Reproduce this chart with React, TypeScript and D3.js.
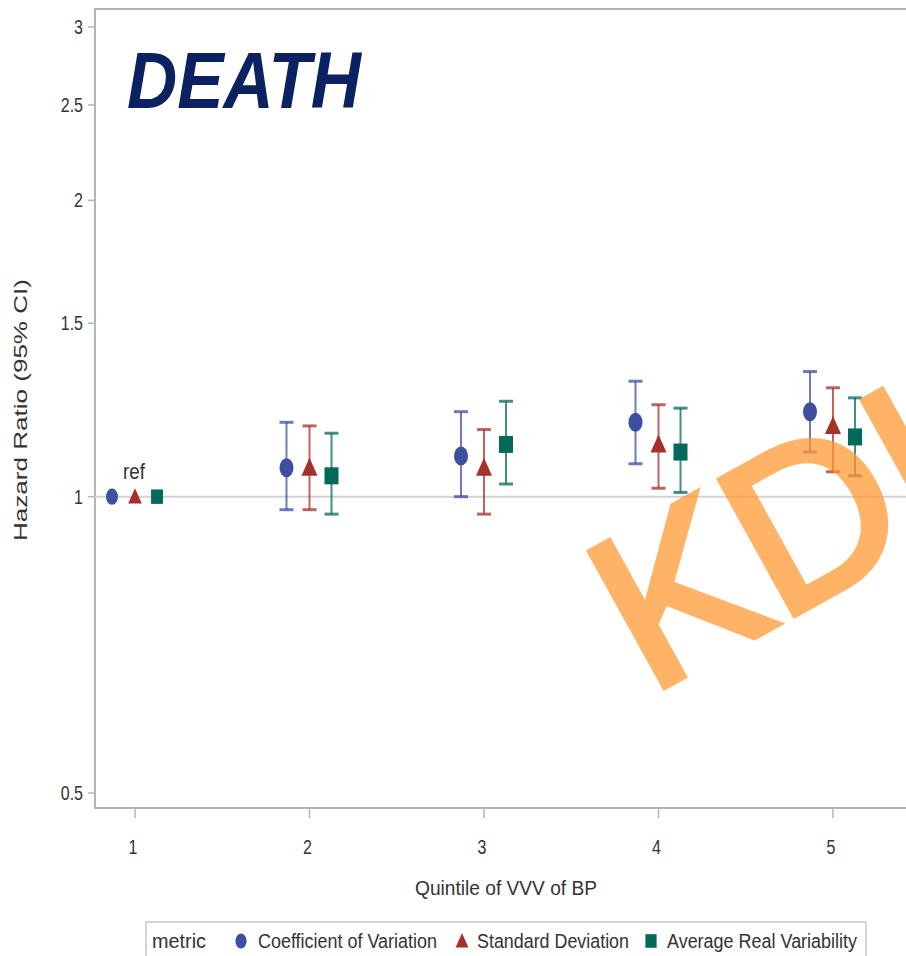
import React from "react";
import * as d3 from "d3";

// Quintiles of visit-to-visit variability of blood pressure
const quintiles = [1, 2, 3, 4, 5];
const yTicks = [0.5, 1, 1.5, 2, 2.5, 3];

// Hazard ratios with 95% CI, one array per metric (quintile 1 is reference)
const cvHR = [1.0, 1.07, 1.1, 1.19, 1.22];
const cvLow = [null, 0.97, 1.0, 1.08, 1.11];
const cvHigh = [null, 1.19, 1.22, 1.31, 1.34];

const sdHR = [1.0, 1.07, 1.07, 1.13, 1.18];
const sdLow = [null, 0.97, 0.96, 1.02, 1.06];
const sdHigh = [null, 1.18, 1.17, 1.24, 1.29];

const arvHR = [1.0, 1.05, 1.13, 1.11, 1.15];
const arvLow = [null, 0.96, 1.03, 1.01, 1.05];
const arvHigh = [null, 1.16, 1.25, 1.23, 1.26];

const metricNames = ["Coefficient of Variation", "Standard Deviation", "Average Real Variability"];
const metricColors = ["#3d4f9f", "#a6302a", "#03695a"];

const W = 906;
const H = 956;

export default function App() {
  const x = d3.scaleLinear().domain([1, 5]).range([135, 833]);
  const y = d3.scaleLog().domain([0.5, 3]).range([793, 27]);
  const offsets = [-23, 0, 22];
  const series = [
    { hr: cvHR, lo: cvLow, hi: cvHigh, shape: "circle" },
    { hr: sdHR, lo: sdLow, hi: sdHigh, shape: "triangle" },
    { hr: arvHR, lo: arvLow, hi: arvHigh, shape: "square" },
  ];
  const left = 95;
  const top = 9;
  const bottom = 808;
  const right = 980;
  const axisColor = "#b4b4b4";
  const textColor = "#333";
  const sans = "'Liberation Sans', Arial, sans-serif";

  const marker = (shape: string, cx: number, cy: number, color: string, s = 1) => {
    if (shape === "circle") return <ellipse cx={cx} cy={cy} rx={7 * s} ry={9.5 * s} fill={color} />;
    if (shape === "triangle") {
      const p = d3.path();
      p.moveTo(cx, cy - 10 * s);
      p.lineTo(cx + 8 * s, cy + 8 * s);
      p.lineTo(cx - 8 * s, cy + 8 * s);
      p.closePath();
      return <path d={p.toString()} fill={color} />;
    }
    return <rect x={cx - 7 * s} y={cy - 8.5 * s} width={14 * s} height={17 * s} fill={color} />;
  };

  // condensed text: horizontally squeezed glyphs
  const narrowText = (
    tx: number,
    ty: number,
    label: string | number,
    size: number,
    anchor: "start" | "middle" | "end" = "start",
    squeeze = 0.8
  ) => (
    <g transform={`translate(${tx},${ty}) scale(${squeeze},1)`}>
      <text x={0} y={0} textAnchor={anchor} fontFamily={sans} fontSize={size} fill={textColor}>
        {label}
      </text>
    </g>
  );

  return (
    <svg width={W} height={H} style={{ position: "absolute", left: 0, top: 0, background: "#fff" }}>
      <defs>
        <clipPath id="pageClip">
          <rect x={0} y={0} width={W} height={H} />
        </clipPath>
      </defs>
      <rect x={0} y={0} width={W} height={H} fill="#fff" />
      <g clipPath="url(#pageClip)">
        {/* plot frame */}
        <path d={`M${right},${top}H${left}V${bottom}H${right}`} fill="none" stroke={axisColor} strokeWidth={2} />
        {/* reference line at HR = 1 */}
        <line x1={left} x2={right} y1={y(1)} y2={y(1)} stroke="#d2d2d2" strokeWidth={2} />

        {/* y axis ticks */}
        {yTicks.map((t) => (
          <g key={t}>
            <line x1={left - 7} x2={left} y1={y(t)} y2={y(t)} stroke={axisColor} strokeWidth={1.5} />
            {narrowText(left - 12, y(t) + 7, t, 20, "end")}
          </g>
        ))}
        <text
          transform={`translate(27,410) rotate(-90)`}
          textAnchor="middle"
          fontFamily={sans}
          fontSize={18}
          fill={textColor}
          textLength={262}
          lengthAdjust="spacingAndGlyphs"
        >
          Hazard Ratio (95% CI)
        </text>

        {/* x axis ticks */}
        {quintiles.map((q) => (
          <g key={q}>
            <line x1={x(q)} x2={x(q)} y1={bottom} y2={bottom + 10} stroke={axisColor} strokeWidth={1.5} />
            {narrowText(x(q) - 2, 854, q, 20, "middle")}
          </g>
        ))}
        <text x={506} y={895} textAnchor="middle" fontFamily={sans} fontSize={20} fill={textColor} textLength={182} lengthAdjust="spacingAndGlyphs">
          Quintile of VVV of BP
        </text>

        {/* estimates with confidence intervals */}
        {series.map((s, si) =>
          quintiles.map((q, qi) => {
            const cx = x(q) + offsets[si];
            const color = metricColors[si];
            const lo = s.lo[qi];
            const hi = s.hi[qi];
            return (
              <g key={`${si}-${q}`}>
                {lo != null && hi != null && (
                  <g stroke={color} strokeWidth={2} strokeOpacity={0.75}>
                    <line x1={cx} x2={cx} y1={y(lo)} y2={y(hi)} />
                    <line x1={cx - 7} x2={cx + 7} y1={y(lo)} y2={y(lo)} strokeWidth={3} />
                    <line x1={cx - 7} x2={cx + 7} y1={y(hi)} y2={y(hi)} strokeWidth={3} />
                  </g>
                )}
                {marker(s.shape, cx, y(s.hr[qi]), color, qi === 0 ? 0.85 : 1)}
              </g>
            );
          })
        )}
        {narrowText(x(1) - 1, y(1) - 18, "ref", 22, "middle", 0.85)}

        {/* title */}
        <text
          x={127}
          y={108}
          fontFamily={sans}
          fontWeight="bold"
          fontStyle="italic"
          fontSize={80}
          fill="#0b2161"
          textLength={234}
          lengthAdjust="spacingAndGlyphs"
        >
          DEATH
        </text>

        {/* legend */}
        <rect x={146} y={922} width={720} height={38} fill="#fff" stroke="#c8c8c8" strokeWidth={1.5} />
        <text x={152} y={948} fontFamily={sans} fontSize={20} fill={textColor} textLength={54} lengthAdjust="spacingAndGlyphs">
          metric
        </text>
        {metricNames.map((name, i) => {
          const mx = [241, 462, 651][i];
          const tx = [258, 477, 667][i];
          const tl = [179, 152, 190][i];
          const shape = series[i].shape;
          return (
            <g key={name}>
              {marker(shape, mx, 941, metricColors[i], 0.8)}
              <text x={tx} y={948} fontFamily={sans} fontSize={20} fill={textColor} textLength={tl} lengthAdjust="spacingAndGlyphs">
                {name}
              </text>
            </g>
          );
        })}

        {/* watermark */}
        <text
          transform="translate(649,695) rotate(-29)"
          fontFamily={sans}
          fontSize={223}
          fill="#ff9a33"
          stroke="#ff9a33"
          strokeWidth={7}
          opacity={0.75}
        >
          KDIGO
        </text>
      </g>
    </svg>
  );
}
